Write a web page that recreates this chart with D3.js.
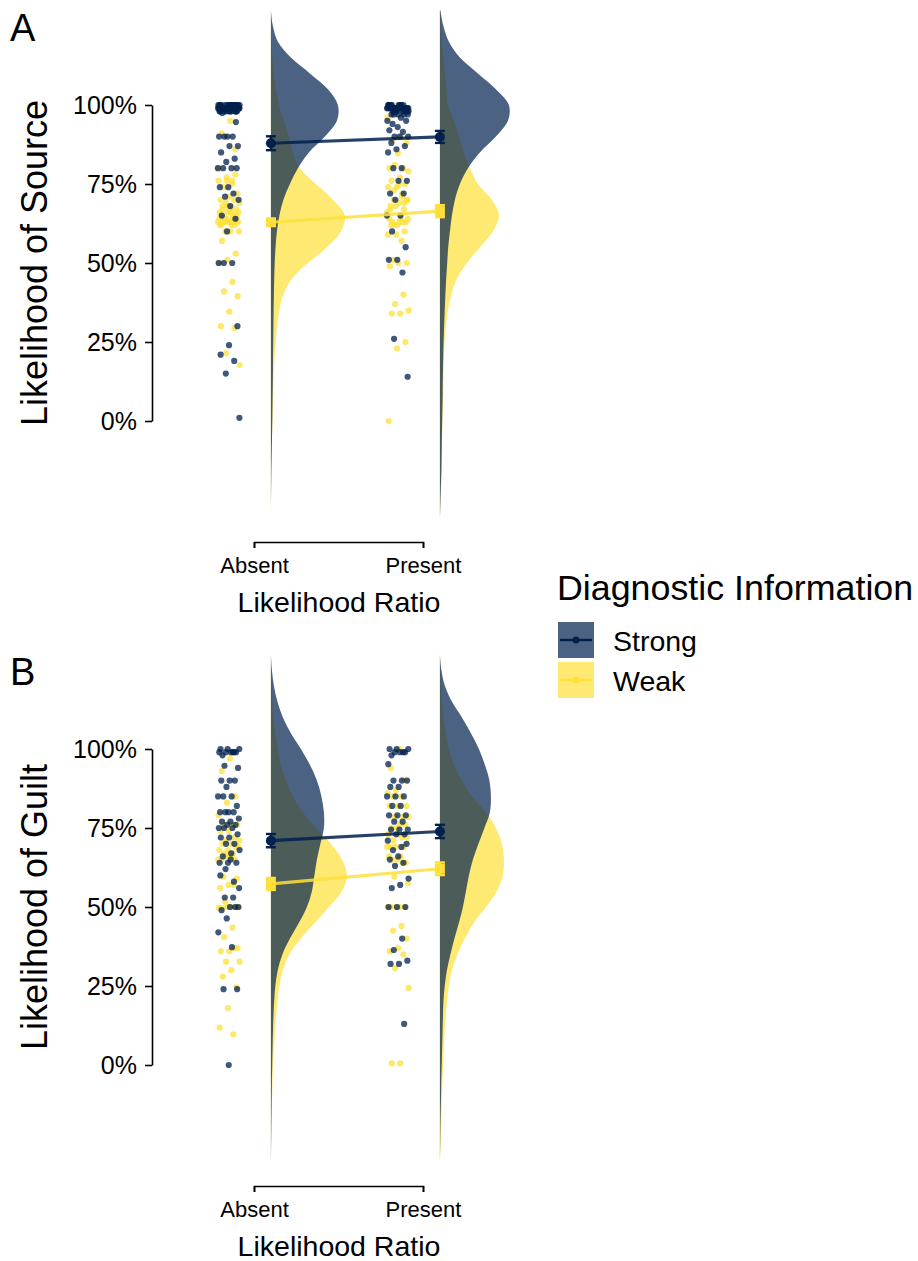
<!DOCTYPE html>
<html>
<head>
<meta charset="utf-8">
<script src="https://cdn.jsdelivr.net/npm/d3@7"></script>
<style>
    body { margin: 0; background: #fff; }
    text { font-family: "Liberation Sans", Arial, Helvetica, sans-serif; fill: #000; }
</style>
</head>
<body>
<div id="chart"></div>
<script>
// ---- data (percent) ----
const conditions = ["Absent", "Present"];
const groups = ["Strong", "Weak"];
const yTicks = [0, 25, 50, 75, 100];

// grid of response values the slab densities were read at
const densityGrid = [130, 125, 120, 115, 110, 105, 100, 95, 90, 85, 80, 75, 70, 65, 60, 55, 50,
    45, 40, 35, 30, 25, 20, 15, 10, 5, 0, -5, -10, -15, -20, -25, -30];

// Panel A - likelihood of source
const sourceAbsentStrong = [100, 100, 99, 99, 100, 99, 98, 99, 100, 99, 98, 100, 99, 99, 100, 98, 99, 100, 99, 100,
    99, 98, 100, 99, 99, 100, 99, 98, 100, 99, 100, 99, 99, 98, 100, 99, 99, 100, 98, 99,
    100, 99, 98, 99, 100, 99, 100, 99, 98, 99, 100, 99, 99, 98, 100, 99, 100, 99, 99, 98,
    97.5, 94.6, 90, 90, 90, 90, 87, 87, 85, 83, 82, 80, 80, 80, 80, 74, 74, 72, 71, 70, 68, 65, 64, 60,
    50, 50, 50, 30, 24, 21, 19, 15, 1];
const sourceAbsentWeak = [95, 91, 86, 76, 76, 76, 74, 72, 71, 70, 70, 69, 69, 68, 68, 67, 66,
    64, 64, 63, 63, 63, 62, 62, 64, 63, 62, 63, 64, 63, 62, 63, 60, 60, 60, 57, 53, 51, 50,
    44, 41, 39.5, 34.6, 30, 29.4, 21.5, 17.7, 66, 67, 65, 68, 66, 65, 64, 66, 67, 65, 78, 77, 80, 75];
const sourcePresentStrong = [100, 99, 98, 99, 100, 97, 99, 98, 100, 99, 98, 99, 100, 99, 97, 98, 99, 100, 99, 98,
    99, 100, 98, 99, 97, 99, 100, 98, 99, 99, 100, 98, 99, 97, 99, 100, 99, 98, 99, 100,
    98, 99, 100, 99, 97, 98, 99, 100, 99, 98,
    95, 96, 94, 95, 93, 92, 91.5, 90, 90, 90, 88, 87, 86, 85, 80, 80, 76, 76, 72, 72, 70, 65, 65, 60,
    55, 51, 51, 47, 26, 14];
const sourcePresentWeak = [100, 99, 99, 98, 96, 90, 89, 88, 84.7, 80, 80, 81, 79, 77, 76, 75, 74, 74,
    71, 70, 70, 69, 67, 67, 68, 66, 64, 63, 63, 62, 64, 63, 62, 64, 63, 62, 60, 59, 59, 57,
    51, 50, 50, 49, 40, 37, 35, 34, 34, 25, 23, 0, 72, 73, 70, 75, 68, 69];

const sourceDensityAbsentStrong = [0, 2, 7, 20, 39, 57, 67, 66, 54, 38, 27, 19, 12.5, 8.5, 6, 4.6, 3.8,
    3.3, 3, 2.7, 2.5, 2.3, 2.1, 2, 1.8, 1.6, 1.4, 1.1, 0.8, 0.5, 0.3, 0.1, 0];
const sourceDensityAbsentWeak = [0, 0.2, 0.6, 1.5, 3, 5, 8, 13, 18, 22, 29, 45, 62, 74, 70, 56, 37,
    21, 12.5, 8.5, 6, 4.8, 3.6, 2.9, 2.4, 2, 1.6, 1.1, 0.8, 0.6, 0.4, 0.2, 0];
const sourceDensityPresentStrong = [0.5, 3.5, 9, 20, 38, 56, 69, 68, 56, 40, 28, 20, 15, 12, 10, 8.3, 7.3,
    6.3, 5.5, 4.8, 4.2, 3.7, 3.3, 3, 2.8, 2.6, 2.3, 2, 1.8, 1.6, 1.1, 0.6, 0.2];
const sourceDensityPresentWeak = [0.3, 1, 2, 3.5, 5, 6.5, 8, 14, 19, 24, 30, 38, 52, 59, 53, 40, 27,
    17, 11.5, 8, 6, 4.6, 4, 3.6, 3.3, 3, 2.5, 2.2, 1.8, 1.3, 0.9, 0.5, 0.1];

const sourceMeanStrong = [87.9, 89.9];
const sourceMeanWeak = [62.9, 66.4];
const sourceSeStrong = [2.2, 1.9];
const sourceSeWeak = [1.0, 1.9];

// Panel B - likelihood of guilt
const guiltAbsentStrong = [100, 99, 99, 100, 99, 98, 99, 100, 99, 99, 94.7, 94, 90, 90, 90, 88, 85, 85, 85, 82,
    80, 80, 80, 80, 78, 77, 77, 76, 76, 75, 75, 75, 73, 72, 72, 70, 70, 68, 67, 66, 64, 64, 64,
    53, 53, 50, 50, 49, 50, 46.4, 42, 37.3, 24, 24, 0, 60, 58, 62, 56, 65];
const guiltAbsentWeak = [97, 93, 85, 83, 79, 76, 76, 76, 74, 74, 72, 71, 71, 70, 70, 69, 68, 68, 67, 67, 69,
    66, 65, 65, 66, 65, 66, 59.6, 59, 57, 56, 57, 51.7, 50, 50, 49.6, 50, 50, 49.8, 43.5, 40.5,
    37, 36, 36, 37, 32.7, 32.7, 30, 28, 24.6, 18, 11.8, 9.7];
const guiltPresentStrong = [100, 99, 99, 100, 99, 98, 99, 100, 95.2, 90, 90, 90, 88, 88, 85, 85, 85, 82, 82,
    79, 79, 79, 77, 77, 74.5, 74.5, 74.5, 73, 73, 71, 69, 68, 70, 66, 65, 64, 63, 59, 57, 56,
    50, 50, 50, 40, 36.4, 33, 32, 32, 13];
const guiltPresentWeak = [100, 94, 90.3, 87, 86, 85, 85, 82, 82, 82, 78.5, 78.5, 78.5, 76, 75, 76, 75,
    73, 72, 71, 72, 73, 69, 69, 69, 69, 66, 65, 64, 65, 66, 64, 59.6, 57.5, 50, 50, 50, 50, 50,
    44, 42.5, 40, 37, 36, 35, 30.6, 24.4, 0.5, 0.5];

const guiltDensityAbsentStrong = [0, 1, 3, 6.5, 12, 20, 30, 39, 46, 50.5, 53, 53, 49.5, 46, 43.5, 41, 36,
    28, 19, 11.5, 6.8, 4.4, 3.2, 2.5, 2, 1.6, 1.3, 1, 0.8, 0.6, 0.4, 0.25, 0.1];
const guiltDensityAbsentWeak = [0, 0.3, 0.8, 1.5, 2.5, 4.5, 7, 10, 15, 22, 32, 45, 60, 71, 76, 71, 58,
    44, 30, 18.5, 12, 8.5, 6.5, 5, 4, 3, 2.2, 1.6, 1.2, 0.8, 0.5, 0.2, 0];
const guiltDensityPresentStrong = [0, 1.5, 5, 12, 22, 31, 39, 45, 49.5, 51, 50, 44.5, 38.5, 33, 29, 26, 23,
    19, 14.5, 10.5, 7, 4.8, 3.5, 3, 2.6, 2.2, 1.8, 1.4, 1.1, 0.8, 0.5, 0.3, 0.1];
const guiltDensityPresentWeak = [0.2, 0.6, 1.3, 2.3, 3.5, 6, 9, 14, 22, 32, 46, 56, 62, 64, 63, 57, 46,
    34, 25, 17.5, 12, 9, 7, 5.6, 4.6, 3.8, 3.2, 2.6, 2.1, 1.7, 1.2, 0.7, 0.2];

const guiltMeanStrong = [71.0, 73.9];
const guiltMeanWeak = [57.3, 62.1];
const guiltSeStrong = [2.1, 2.1];
const guiltSeWeak = [1.9, 2.0];

const colors = { Strong: "#00204D", Weak: "#FEE038" };

class RaincloudVis {
    constructor(svg, panel) {
        this.svg = svg;
        this.panel = panel;

        this.initVis();
    }

    initVis() {
        let vis = this;

        vis.g = vis.svg.append("g")
            .attr("transform", "translate(0," + vis.panel.top + ")");

        // Scales
        vis.y = d3.scaleLinear().domain([0, 100]).range([421, 105]);
        vis.x = d3.scalePoint().domain(conditions).range([254, 423]);
        vis.step = vis.x(conditions[1]) - vis.x(conditions[0]);
        vis.w = d3.scaleLinear().domain([0, 76]).range([0, 76]);

        // Half-eye slabs (weak first, strong drawn over it)
        vis.area = d3.area()
            .curve(d3.curveCatmullRom.alpha(0.5))
            .y(d => vis.y(d.v))
            .x0(d => d.base)
            .x1(d => d.base + Math.max(0, vis.w(d.d)));

        conditions.forEach(c => {
            let base = vis.x(c) + 0.1 * vis.step;
            ["Weak", "Strong"].forEach(gr => {
                let pts = densityGrid.map((v, k) => ({ v: v, d: vis.panel.density[c][gr][k], base: base }));
                vis.g.append("path")
                    .attr("d", vis.area(pts))
                    .attr("fill", colors[gr])
                    .attr("fill-opacity", 0.7);
            });
        });

        // Jittered raw responses
        conditions.forEach(c => {
            let strong = vis.panel.points[c].Strong, weak = vis.panel.points[c].Weak;
            let merged = [];
            for (let i = 0; i < Math.max(strong.length, weak.length); i++) {
                if (i < strong.length) merged.push({ v: strong[i], g: "Strong", i: i });
                if (i < weak.length) merged.push({ v: weak[i], g: "Weak", i: i });
            }
            vis.g.selectAll(".dot-" + c)
                .data(merged)
                .enter().append("circle")
                .attr("class", "dot-" + c)
                .attr("cx", d => {
                    let phase = d.g == "Strong" ? 0.13 : 0.57;
                    let j = ((d.i * 0.618034 + phase) % 1) - 0.5;
                    return vis.x(c) - 0.15 * vis.step + j * 0.13 * vis.step;
                })
                .attr("cy", d => vis.y(d.v))
                .attr("r", 3.1)
                .attr("fill", d => colors[d.g])
                .attr("fill-opacity", 0.75);
        });

        // Means with standard errors
        groups.forEach(gr => {
            let m = vis.panel.means[gr], se = vis.panel.se[gr];
            let mx = conditions.map(c => vis.x(c) + 0.1 * vis.step);

            vis.g.append("line")
                .attr("x1", mx[0]).attr("y1", vis.y(m[0]))
                .attr("x2", mx[1]).attr("y2", vis.y(m[1]))
                .attr("stroke", colors[gr])
                .attr("stroke-opacity", 0.85)
                .attr("stroke-width", 3.2);

            conditions.forEach((c, k) => {
                let eb = vis.g.append("g").attr("stroke", colors[gr]).attr("stroke-width", 2.4);
                eb.append("line")
                    .attr("x1", mx[k]).attr("x2", mx[k])
                    .attr("y1", vis.y(m[k] - se[k])).attr("y2", vis.y(m[k] + se[k]));
                [m[k] - se[k], m[k] + se[k]].forEach(v => {
                    eb.append("line")
                        .attr("x1", mx[k] - 5).attr("x2", mx[k] + 5)
                        .attr("y1", vis.y(v)).attr("y2", vis.y(v));
                });
                if (gr == "Strong") {
                    vis.g.append("circle")
                        .attr("cx", mx[k]).attr("cy", vis.y(m[k]))
                        .attr("r", 5)
                        .attr("fill", colors[gr]);
                } else {
                    vis.g.append("rect")
                        .attr("x", mx[k] - 5).attr("y", vis.y(m[k]) - 5)
                        .attr("width", 10).attr("height", 10)
                        .attr("fill", colors[gr]);
                }
            });
        });

        // Axes
        vis.yAxis = d3.axisLeft(vis.y)
            .tickValues(yTicks)
            .tickFormat(d => d + "%")
            .tickSize(7)
            .tickSizeOuter(0)
            .tickPadding(8);

        vis.xAxis = d3.axisBottom(vis.x)
            .tickSize(6)
            .tickSizeOuter(6)
            .tickPadding(9);

        let ya = vis.g.append("g")
            .attr("class", "y-axis axis")
            .attr("transform", "translate(152,0)")
            .call(vis.yAxis);
        ya.selectAll("text").attr("font-size", 25);

        let xa = vis.g.append("g")
            .attr("class", "x-axis axis")
            .attr("transform", "translate(0,542)")
            .call(vis.xAxis);
        xa.selectAll("text").attr("font-size", 22);

        vis.g.selectAll(".axis path, .axis line")
            .attr("stroke", "#000")
            .attr("stroke-width", 1.6);

        // Titles
        vis.g.append("text")
            .attr("x", 339)
            .attr("y", 612)
            .attr("text-anchor", "middle")
            .attr("font-size", 28.5)
            .text("Likelihood Ratio");

        vis.g.append("text")
            .attr("transform", "translate(47,263) rotate(-90)")
            .attr("text-anchor", "middle")
            .attr("font-size", 36)
            .text(vis.panel.yTitle);

        vis.g.append("text")
            .attr("x", 10)
            .attr("y", 41)
            .attr("font-size", 38)
            .text(vis.panel.tag);
    }
}

let svg = d3.select("#chart").append("svg")
    .attr("width", 918)
    .attr("height", 1261);

new RaincloudVis(svg, {
    top: 0, tag: "A", yTitle: "Likelihood of Source",
    points: {
        Absent: { Strong: sourceAbsentStrong, Weak: sourceAbsentWeak },
        Present: { Strong: sourcePresentStrong, Weak: sourcePresentWeak }
    },
    density: {
        Absent: { Strong: sourceDensityAbsentStrong, Weak: sourceDensityAbsentWeak },
        Present: { Strong: sourceDensityPresentStrong, Weak: sourceDensityPresentWeak }
    },
    means: { Strong: sourceMeanStrong, Weak: sourceMeanWeak },
    se: { Strong: sourceSeStrong, Weak: sourceSeWeak }
});

new RaincloudVis(svg, {
    top: 644, tag: "B", yTitle: "Likelihood of Guilt",
    points: {
        Absent: { Strong: guiltAbsentStrong, Weak: guiltAbsentWeak },
        Present: { Strong: guiltPresentStrong, Weak: guiltPresentWeak }
    },
    density: {
        Absent: { Strong: guiltDensityAbsentStrong, Weak: guiltDensityAbsentWeak },
        Present: { Strong: guiltDensityPresentStrong, Weak: guiltDensityPresentWeak }
    },
    means: { Strong: guiltMeanStrong, Weak: guiltMeanWeak },
    se: { Strong: guiltSeStrong, Weak: guiltSeWeak }
});

// Legend
let legend = svg.append("g").attr("class", "legend");

legend.append("text")
    .attr("x", 557)
    .attr("y", 600)
    .attr("font-size", 35.8)
    .text("Diagnostic Information");

groups.forEach((gr, i) => {
    let ky = 622 + i * 40;
    legend.append("rect")
        .attr("x", 558).attr("y", ky)
        .attr("width", 36).attr("height", 36)
        .attr("fill", colors[gr])
        .attr("fill-opacity", 0.7);
    legend.append("line")
        .attr("x1", 560).attr("x2", 592)
        .attr("y1", ky + 18).attr("y2", ky + 18)
        .attr("stroke", colors[gr])
        .attr("stroke-width", 2.5);
    legend.append("circle")
        .attr("cx", 576).attr("cy", ky + 18)
        .attr("r", 3.5)
        .attr("fill", colors[gr]);
    legend.append("text")
        .attr("x", 613)
        .attr("y", ky + 29)
        .attr("font-size", 28.5)
        .text(gr);
});
</script>
</body>
</html>
